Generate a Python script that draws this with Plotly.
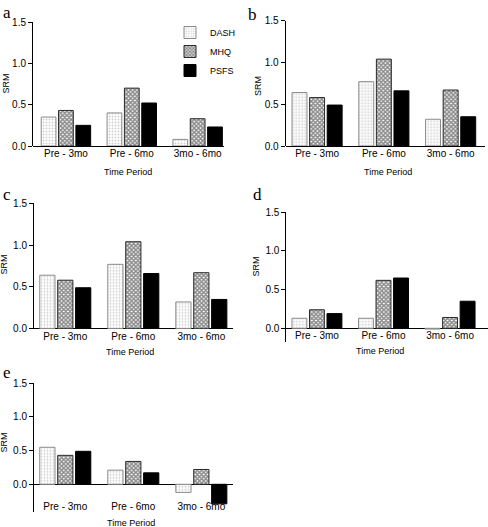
import plotly.graph_objects as go

W, H = 488, 527

categories = ["Pre - 3mo", "Pre - 6mo", "3mo - 6mo"]
series_names = ["DASH", "MHQ", "PSFS"]

panel_a = {"DASH": [0.35, 0.40, 0.08], "MHQ": [0.43, 0.70, 0.33], "PSFS": [0.25, 0.52, 0.23]}
panel_b = {"DASH": [0.64, 0.77, 0.32], "MHQ": [0.58, 1.04, 0.67], "PSFS": [0.49, 0.66, 0.35]}
panel_c = {"DASH": [0.64, 0.77, 0.32], "MHQ": [0.58, 1.04, 0.67], "PSFS": [0.49, 0.66, 0.35]}
panel_d = {"DASH": [0.13, 0.13, -0.01], "MHQ": [0.24, 0.62, 0.14], "PSFS": [0.19, 0.65, 0.35]}
panel_e = {"DASH": [0.55, 0.21, -0.12], "MHQ": [0.43, 0.34, 0.22], "PSFS": [0.49, 0.17, -0.29]}

y_ticks = [0.0, 0.5, 1.0, 1.5]
panel_labels = ["a", "b", "c", "d", "e"]

# layout (pixel geometry)
panels = [
    dict(data=panel_a, x0=33.0, x1=224.0, xr=[-0.5, 2.40], ytop=22.0, yzero=146.0, ybot=146.0, xlab=146.0,
         lab=(7, 13), srm=(5.5, 84), tp=(128, 171.5)),
    dict(data=panel_b, x0=285.7, x1=484.7, xr=[-0.47, 2.51], ytop=20.7, yzero=146.0, ybot=146.0, xlab=146.0,
         lab=(252, 14), srm=(258, 86), tp=(388, 171.5)),
    dict(data=panel_c, x0=34.0, x1=233.3, xr=[-0.46, 2.47], ytop=203.3, yzero=328.7, ybot=328.7, xlab=328.7,
         lab=(7, 194), srm=(3.5, 265), tp=(130, 351.5)),
    dict(data=panel_d, x0=286.3, x1=488.0, xr=[-0.46, 2.57], ytop=212.3, yzero=328.3, ybot=342.0, xlab=328.3,
         lab=(257, 194), srm=(255.5, 267), tp=(380, 351)),
    dict(data=panel_e, x0=34.0, x1=233.3, xr=[-0.46, 2.47], ytop=383.3, yzero=484.3, ybot=511.7, xlab=499.0,
         lab=(7, 372), srm=(3.5, 443), tp=(131, 522.5)),
]

styles = {
    "DASH": dict(color="white", line=dict(color="#8a8a8a", width=1),
                 pattern=dict(shape=".", fgcolor="#a0a0a0", bgcolor="white", size=3, solidity=0.3)),
    "MHQ": dict(color="white", line=dict(color="#2a2a2a", width=1),
                pattern=dict(shape="x", fgcolor="#1a1a1a", bgcolor="white", size=3, solidity=0.75)),
    "PSFS": dict(color="black", line=dict(color="black", width=1)),
}

fig = go.Figure()
layout = {}
annotations = []
FONT = "Liberation Sans, Arial, sans-serif"

for i, p in enumerate(panels):
    n = "" if i == 0 else str(i + 1)
    xa, ya = "x" + n, "y" + n
    ppu = (p["yzero"] - p["ytop"]) / 1.5
    ymin = -(p["ybot"] - p["yzero"]) / ppu
    yr = [ymin, 1.5]
    for s in series_names:
        fig.add_trace(go.Bar(
            x=categories, y=p["data"][s], name=s, xaxis=xa, yaxis=ya,
            marker=styles[s], showlegend=(i == 0), legendgroup=s,
        ))
    ydom = [1 - p["ybot"] / H, 1 - p["ytop"] / H]
    xdom = [p["x0"] / W, p["x1"] / W]
    layout["xaxis" + n] = dict(
        domain=xdom, range=p["xr"], anchor="free", position=1 - p["xlab"] / H,
        showline=False, ticks="", showgrid=False, automargin=False,
        zeroline=False, tickfont=dict(family=FONT, size=10, color="black"),
        type="category",
    )
    layout["yaxis" + n] = dict(
        domain=ydom, range=yr, anchor=xa, showline=True, linecolor="black", linewidth=1,
        ticks="outside", ticklen=4, tickcolor="black", tickvals=y_ticks, tickformat=".1f",
        showgrid=False, zeroline=True, zerolinecolor="black", zerolinewidth=1, automargin=False,
        tickfont=dict(family=FONT, size=10, color="black"),
    )
    common = dict(xref="paper", yref="paper", showarrow=False, xanchor="center", yanchor="middle")
    annotations.append(dict(text=panel_labels[i], x=p["lab"][0] / W, y=1 - p["lab"][1] / H,
                            font=dict(family="Liberation Serif, Times New Roman, serif", size=17, color="black"),
                            **common))
    annotations.append(dict(text="SRM", x=p["srm"][0] / W, y=1 - p["srm"][1] / H, textangle=-90,
                            font=dict(family=FONT, size=9, color="black"), **common))
    annotations.append(dict(text="Time Period", x=p["tp"][0] / W, y=1 - p["tp"][1] / H,
                            font=dict(family=FONT, size=9, color="black"), **common))

fig.update_layout(
    width=W, height=H, margin=dict(l=0, r=0, t=0, b=0, autoexpand=False),
    paper_bgcolor="white", plot_bgcolor="rgba(0,0,0,0)",
    barmode="group", bargap=0.21, bargroupgap=0.15,
    showlegend=True,
    legend=dict(x=170 / W, y=1 - 18 / H, xanchor="left", yanchor="top",
                font=dict(family=FONT, size=9, color="black"), bgcolor="rgba(0,0,0,0)",
                tracegroupgap=0, itemwidth=30),
    annotations=annotations,
    **layout,
)

fig.write_html(
    "out.html",
    config={"displayModeBar": False},
    post_script="document.body.style.margin='0px';document.body.style.overflow='hidden';",
)
